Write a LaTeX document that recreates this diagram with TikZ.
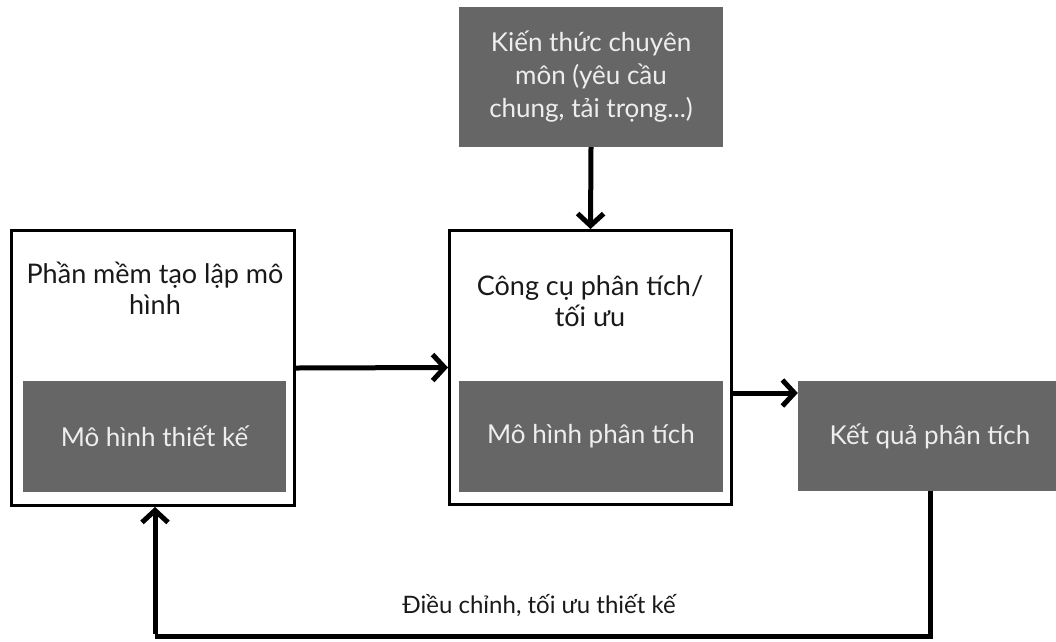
\documentclass[tikz,border=0pt]{standalone}
\usepackage{fontspec}
\setmainfont{Lato}
\usetikzlibrary{arrows.meta}
\definecolor{boxgray}{RGB}{102,102,102}
\definecolor{boxtext}{RGB}{238,238,238}
\begin{document}
\begin{tikzpicture}[x=1pt,y=-1pt,
  darkbox/.style={fill=boxgray,draw=none,text=boxtext,inner sep=0pt,align=center,
    font=\fontsize{26}{33}\selectfont},
  framebox/.style={draw=black,line width=3pt,fill=white,inner sep=0pt},
  caption/.style={font=\fontsize{27}{31}\selectfont,align=center,text=black!90},
  flow/.style={line width=5pt,-{Straight Barb[length=12pt,width=26pt,line width=5pt]}},
  plain/.style={line width=5pt}]
\useasboundingbox (0,0) rectangle (1056,641);

% knowledge input
\node[darkbox,minimum width=264pt,minimum height=140pt] (know) at (591,77)
  {Kiến thức chuyên\\môn (yêu cầu\\chung, tải trọng...)};

% modelling software with its design model
\node[framebox,minimum width=283pt,minimum height=275pt] (soft) at (153,368) {};
\node[caption] (softlbl) at (155,288) {Phần mềm tạo lập mô\\hình};
\node[darkbox,minimum width=263pt,minimum height=111pt] (design) at (154.5,436.5)
  {Mô hình thiết kế};

% analysis tool with its analysis model
\node[framebox,minimum width=282pt,minimum height=274pt] (tool) at (590.5,367.5) {};
\node[caption] (toollbl) at (590,301) {Công cụ phân tích/\\tối ưu};
\node[darkbox,minimum width=264pt,minimum height=111pt] (anal) at (591,436.5)
  {Mô hình phân tích};

% results
\node[darkbox,minimum width=264pt,minimum height=110pt] (res) at (930,436)
  {Kết quả phân tích};

% connectors
\draw[flow] (know.south) -- (tool.north);
\draw[flow] (soft.east) -- (tool.west);
\coordinate (outrow) at (700,393);
\draw[flow] (outrow -| tool.east) -- (outrow -| res.west);

\coordinate (fbcorner) at (930,636);
\coordinate (fbend) at (155,636);
\draw[plain] (res.south) -- (fbcorner) -- (fbend);
\draw[flow] ([yshift=2.5pt]fbend) -- (fbend |- soft.south);

\node[font=\fontsize{24}{28}\selectfont,text=black!90] (fblbl) at (539,606)
  {Điều chỉnh, tối ưu thiết kế};
\end{tikzpicture}
\end{document}
